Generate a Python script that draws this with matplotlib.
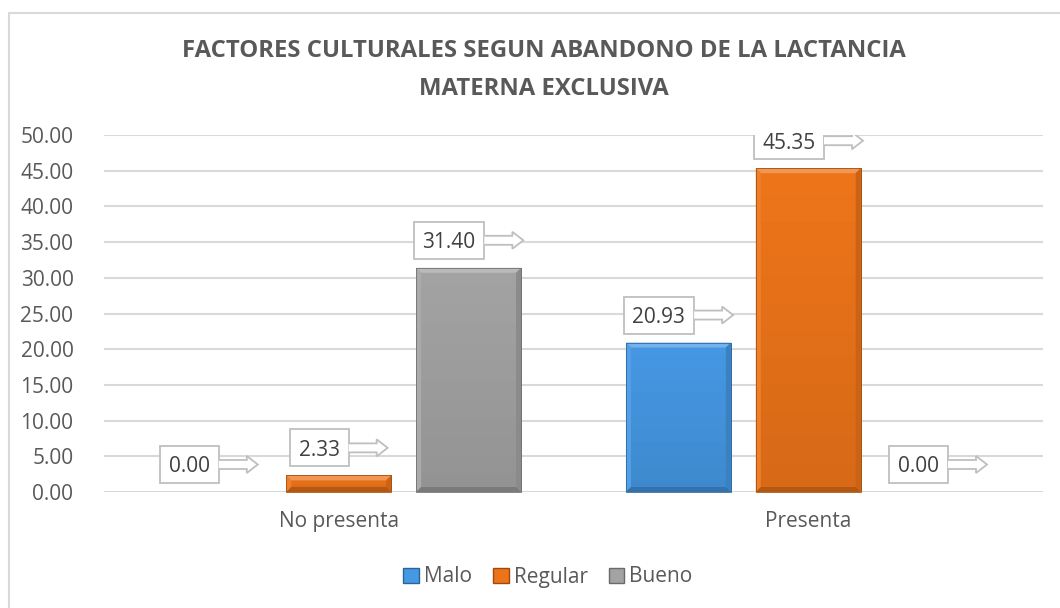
import numpy as np
import matplotlib
matplotlib.use("Agg")
import matplotlib.pyplot as plt
from matplotlib.patches import Polygon, Rectangle, Patch
from matplotlib.transforms import Affine2D, ScaledTranslation, IdentityTransform
from matplotlib.colors import to_rgb

plt.rcParams["font.family"] = ["Open Sans", "DejaVu Sans"]

categories = ["No presenta", "Presenta"]
series = ["Malo", "Regular", "Bueno"]
malo = [0.00, 20.93]
regular = [2.33, 45.35]
bueno = [31.40, 0.00]
values = [malo, regular, bueno]
colors = ["#4598e4", "#ee7419", "#a3a3a3"]
yticks = np.arange(0, 50.01, 5)

DPI = 100
fig = plt.figure(figsize=(10.6, 6.08), dpi=DPI)
ax = fig.add_axes([104 / 1060, 1 - 492 / 608, (1043 - 104) / 1060, (492 - 135) / 608])

# outer chart frame
fig.add_artist(Rectangle((9 / 1060, -0.1), 1.2, 1 - 13 / 608 + 0.1,
                         transform=fig.transFigure, fill=False,
                         edgecolor="#d9d9d9", lw=1.5))


def mix(c, other, t):
    c = np.array(to_rgb(c))
    o = np.array(to_rgb(other))
    return tuple(c * (1 - t) + o * t)


x = np.arange(len(categories))
width = 0.2234
offsets = [-0.2766, 0.0, 0.2766]

ax.set_xlim(-0.5, 1.5)
ax.set_ylim(0, 50)

bars = []
for vals, off, col, name in zip(values, offsets, colors, series):
    b = ax.bar(x + off, vals, width, color=col, edgecolor=mix(col, "black", 0.3),
               linewidth=0.6, zorder=3, label=name)
    bars.append(b)

ax.set_yticks(yticks)
ax.set_yticklabels([f"{v:.2f}" for v in yticks])
ax.set_xticks(x)
ax.set_xticklabels(categories)
ax.tick_params(axis="y", length=0, pad=22, labelsize=15, labelcolor="#595959")
ax.tick_params(axis="x", length=0, pad=14, labelsize=15, labelcolor="#595959")
ax.grid(axis="y", color="#d9d9d9", lw=1.5, zorder=0)
for s in ax.spines.values():
    s.set_visible(False)

# bevel effect on bars (in pixels, from bar geometry)
fig.canvas.draw()
bev = 5
for blist, col in zip(bars, colors):
    for rect in blist:
        h = rect.get_height()
        if h <= 0:
            continue
        x0, y0 = ax.transData.transform((rect.get_x(), 0))
        x1, y1 = ax.transData.transform((rect.get_x() + rect.get_width(), h))
        b = min(bev, (y1 - y0) / 3)
        # subtle vertical shading inside
        n = 12
        for k in range(n):
            ya = y0 + (y1 - y0) * k / n
            yb = y0 + (y1 - y0) * (k + 1) / n
            t = 0.10 * (1 - (k + 0.5) / n)
            fig.add_artist(Polygon([(x0, ya), (x1, ya), (x1, yb), (x0, yb)],
                                   closed=True, facecolor=mix(col, "black", t),
                                   edgecolor="none", transform=IdentityTransform(), zorder=4))
        strips = [
            ([(x0, y1), (x1, y1), (x1 - b, y1 - b), (x0 + b, y1 - b)], mix(col, "white", 0.25)),
            ([(x0, y0), (x0, y1), (x0 + b, y1 - b), (x0 + b, y0 + b)], mix(col, "white", 0.08)),
            ([(x1, y0), (x1, y1), (x1 - b, y1 - b), (x1 - b, y0 + b)], mix(col, "black", 0.15)),
            ([(x0, y0), (x1, y0), (x1 - b, y0 + b), (x0 + b, y0 + b)], mix(col, "black", 0.25)),
        ]
        for pts, c in strips:
            fig.add_artist(Polygon(pts, closed=True, facecolor=c, edgecolor="none",
                                   transform=IdentityTransform(), zorder=4))
        fig.add_artist(Rectangle((x0, y0), x1 - x0, y1 - y0, fill=False,
                                 edgecolor=mix(col, "black", 0.3), lw=0.6,
                                 transform=IdentityTransform(), zorder=4))

# data label callouts (box + right arrow), sizes in pixels
for vals, off in zip(values, offsets):
    for xi, v in zip(x, vals):
        label = f"{v:.2f}"
        bw = 12 + 11.7 * len(label)
        total = bw + 39
        left = -total / 2
        gap, bh = 9, 37
        base = Affine2D() + ScaledTranslation(xi + off, v, ax.transData)
        box = Rectangle((left, gap), bw, bh, facecolor="white", edgecolor="#bfbfbf",
                        lw=1.3, transform=base, zorder=5)
        ax.add_artist(box)
        cy = gap + bh / 2
        xr = left + bw
        arrow = [(xr, cy + 4.5), (xr + 28, cy + 4.5), (xr + 28, cy + 8.5), (xr + 39, cy),
                 (xr + 28, cy - 8.5), (xr + 28, cy - 4.5), (xr, cy - 4.5)]
        ax.add_artist(Polygon(arrow, closed=False, facecolor="white", edgecolor="#bfbfbf",
                              lw=1.3, transform=base, zorder=5))
        tt = Affine2D().translate(left + bw / 2, cy) + ScaledTranslation(xi + off, v, ax.transData)
        ax.text(0, 0, label, transform=tt, ha="center", va="center_baseline",
                fontsize=15, color="#404040", zorder=6)

fig.text(544 / 1060, 1 - 51 / 608, "FACTORES CULTURALES SEGUN ABANDONO DE LA LACTANCIA",
         ha="center", va="center", fontsize=17.2, fontweight="bold", color="#595959")
fig.text(544 / 1060, 1 - 89 / 608, "MATERNA EXCLUSIVA",
         ha="center", va="center", fontsize=17.2, fontweight="bold", color="#595959")

handles = [Patch(facecolor=c, edgecolor=mix(c, "black", 0.35), label=s)
           for c, s in zip(colors, series)]
fig.legend(handles=handles, loc="center", bbox_to_anchor=(548 / 1060, 1 - 577 / 608),
           ncol=3, frameon=False, fontsize=15, labelcolor="#595959",
           handlelength=0.75, handleheight=0.75, handletextpad=0.25, columnspacing=1.0)

fig.savefig("out.png", dpi=DPI)
